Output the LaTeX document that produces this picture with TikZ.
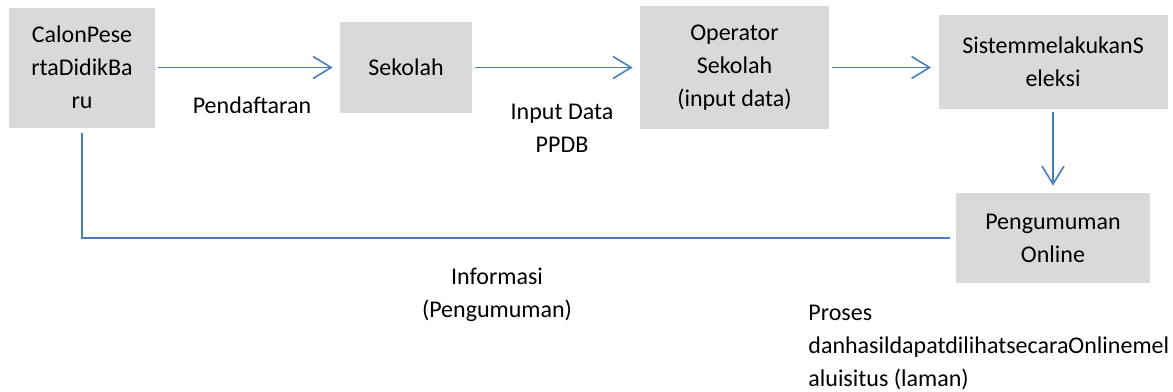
\documentclass[tikz,border=0pt]{standalone}
\usepackage{fontspec}
\setmainfont{Carlito}
\usetikzlibrary{arrows.meta, positioning}
\definecolor{boxgray}{HTML}{D9D9D9}
\definecolor{lineblue}{HTML}{4A7EBB}

\begin{document}
\begin{tikzpicture}[
    x=0.5pt,
    y=-0.5pt,
    font=\fontsize{12}{16.5}\selectfont,
    box/.style={fill=boxgray, align=center, inner sep=0pt},
    flow/.style={draw=lineblue, line width=0.8pt,
        -{Straight Barb[length=9pt, width=11pt, line width=0.8pt]},
        shorten <=1.25pt, shorten >=3.5pt},
    link/.style={draw=lineblue, line width=0.8pt},
    lbl/.style={align=center, inner sep=0pt},
]
    \useasboundingbox (0,0) rectangle (1173,391);

    \node[box, minimum width=73pt,   minimum height=60pt]   (calon) at (82,67.5)     {CalonPese\\rtaDidikBa\\ru};
    \node[box, minimum width=66pt,   minimum height=45.5pt] (sek)   at (406,67.5)    {Sekolah};
    \node[box, minimum width=94.5pt, minimum height=61.5pt] (op)    at (734.5,67.5)  {Operator\\Sekolah\\(input data)};
    \node[box, minimum width=114.5pt,minimum height=47pt]   (sis)   at (1053,62)     {SistemmelakukanS\\eleksi};
    \node[box, minimum width=97pt,   minimum height=45pt]   (peng)  at (1053,238)    {Pengumuman\\Online};

    \node[lbl]                         (daftar) at (252,105) {Pendaftaran};
    \node[lbl]                         (input)  at (562,128) {Input Data\\PPDB};
    \node[lbl]                         (info)   at (497,295) {Informasi\\(Pengumuman)};
    \node[lbl, anchor=west, align=left] (proses) at (808,347)
        {Proses\\danhasildapatdilihatsecaraOnlinemel\\aluisitus (laman)};

    \draw[flow] (calon.east) -- (calon.east -| sek.west);
    \draw[flow] (sek.east)   -- (sek.east -| op.west);
    \draw[flow] (op.east)    -- (op.east -| sis.west);
    \draw[flow] (sis.south)  -- (peng.north);
    \draw[link, shorten <=3pt, shorten >=2.5pt] (peng.west) -| (calon.south);
\end{tikzpicture}
\end{document}
